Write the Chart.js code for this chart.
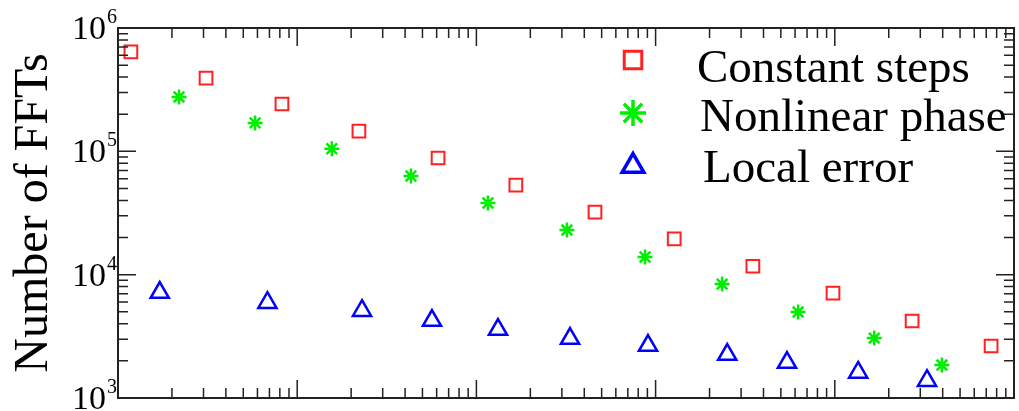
<!DOCTYPE html>
<html>
<head>
<meta charset="utf-8">
<script src="https://cdn.jsdelivr.net/npm/chart.js@4"></script>
<style>
  html, body { margin: 0; padding: 0; background: #fff; }
  #wrap { width: 1019px; height: 411px; }
</style>
</head>
<body>
<div id="wrap"><canvas id="myChart" width="1019" height="411"></canvas></div>
<script>
// data (x axis is log, no labels in the picture)
const constX = [1.18e-5, 3.10e-5, 8.22e-5, 2.21e-4, 6.11e-4, 1.66e-3, 4.59e-3, 1.27e-2, 3.49e-2, 9.77e-2, 0.270, 0.745];
const constY = [6.39e5, 3.93e5, 2.42e5, 1.46e5, 8.83e4, 5.33e4, 3.22e4, 1.95e4, 1.17e4, 7.10e3, 4.21e3, 2.64e3];

const nonlinX = [2.19e-5, 5.82e-5, 1.56e-4, 4.31e-4, 1.16e-3, 3.20e-3, 8.73e-3, 2.35e-2, 6.24e-2, 0.166, 0.396];
const nonlinY = [2.76e5, 1.70e5, 1.05e5, 6.31e4, 3.81e4, 2.30e4, 1.39e4, 8.39e3, 4.98e3, 3.06e3, 1.85e3];

const localX = [1.71e-5, 6.82e-5, 2.30e-4, 5.65e-4, 1.32e-3, 3.33e-3, 9.07e-3, 2.51e-2, 5.41e-2, 0.135, 0.327];
const localY = [7.16e3, 5.93e3, 5.11e3, 4.24e3, 3.59e3, 3.03e3, 2.66e3, 2.25e3, 1.94e3, 1.61e3, 1.38e3];

const seriesLabels = ['Constant steps', 'Nonlinear phase', 'Local error'];
const yDecades = [1e3, 1e4, 1e5, 1e6];
const xDecades = [1e-5, 1e-4, 1e-3, 1e-2, 1e-1, 1];

const SERIF = '"Liberation Serif", "DejaVu Serif", serif';

function toPoints(xs, ys) {
    return xs.map((x, i) => ({ x: x, y: ys[i] }));
}

// frame with inward ticks on all four sides, and 10^n labels
const framePlugin = {
    id: 'frame',
    afterDraw(chart) {
        const ctx = chart.ctx;
        const a = chart.chartArea;
        const xs = chart.scales.x, ys = chart.scales.y;
        ctx.save();
        ctx.strokeStyle = '#222';
        ctx.lineWidth = 1.5;
        const tick = (p, len, vertical) => {
            ctx.beginPath();
            if (vertical) {
                ctx.moveTo(p, a.bottom); ctx.lineTo(p, a.bottom - len);
                ctx.moveTo(p, a.top); ctx.lineTo(p, a.top + len);
            } else {
                ctx.moveTo(a.left, p); ctx.lineTo(a.left + len, p);
                ctx.moveTo(a.right, p); ctx.lineTo(a.right - len, p);
            }
            ctx.stroke();
        };
        xDecades.forEach((d, i) => {
            tick(xs.getPixelForValue(d), 18, true);
            if (i < xDecades.length - 1) {
                for (let m = 2; m < 10; m++) tick(xs.getPixelForValue(d * m), 10, true);
            }
        });
        yDecades.forEach((d, i) => {
            tick(ys.getPixelForValue(d), 18, false);
            if (i < yDecades.length - 1) {
                for (let m = 2; m < 10; m++) tick(ys.getPixelForValue(d * m), 10, false);
            }
        });
        ctx.lineWidth = 2;
        ctx.strokeRect(a.left, a.top, a.right - a.left, a.bottom - a.top);

        // tick labels 10^n
        ctx.fillStyle = '#000';
        ctx.textBaseline = 'alphabetic';
        yDecades.forEach(d => {
            const py = ys.getPixelForValue(d);
            const exp = String(Math.round(Math.log10(d)));
            ctx.font = '34px ' + SERIF;
            ctx.textAlign = 'right';
            ctx.fillText('10', a.left - 12, py + 11);
            ctx.font = '20px ' + SERIF;
            ctx.textAlign = 'left';
            ctx.fillText(exp, a.left - 11, py - 5);
        });
        ctx.restore();
    }
};

// legend drawn inside the plot, top right (bigger markers than the plot)
const legendPlugin = {
    id: 'insideLegend',
    afterDraw(chart) {
        const ctx = chart.ctx;
        const rows = [
            { my: 60, r: 12.4, bw: 3, tx: 697, ty: 82 },
            { my: 113, r: 13, bw: 3.5, tx: 700, ty: 131 },
            { my: 166, r: 12.5, bw: 3.5, tx: 703, ty: 182 }
        ];
        ctx.save();
        chart.data.datasets.forEach((ds, i) => {
            const r = rows[i];
            ctx.strokeStyle = ds.borderColor;
            ctx.fillStyle = 'rgba(0,0,0,0)';
            ctx.lineWidth = r.bw;
            Chart.helpers.drawPoint(ctx, {
                pointStyle: ds.pointStyle,
                radius: r.r,
                borderWidth: r.bw,
                rotation: 0
            }, 633, r.my);
            ctx.fillStyle = '#000';
            ctx.font = '47px ' + SERIF;
            ctx.textAlign = 'left';
            ctx.textBaseline = 'alphabetic';
            ctx.fillText(ds.label, r.tx, r.ty);
        });
        ctx.restore();
    }
};

const ctx = document.getElementById('myChart').getContext('2d');
const myChart = new Chart(ctx, {
    type: 'scatter',
    data: {
        datasets: [{
            label: seriesLabels[0],
            data: toPoints(constX, constY),
            pointStyle: 'rect',
            pointRadius: 9,
            borderWidth: 2,
            borderColor: '#ff2020',
            backgroundColor: 'rgba(0,0,0,0)'
        }, {
            label: seriesLabels[1],
            data: toPoints(nonlinX, nonlinY),
            pointStyle: 'star',
            pointRadius: 7.5,
            borderWidth: 2.5,
            borderColor: '#00ee00',
            backgroundColor: 'rgba(0,0,0,0)'
        }, {
            label: seriesLabels[2],
            data: toPoints(localX, localY),
            pointStyle: 'triangle',
            pointRadius: 10.5,
            borderWidth: 2.5,
            borderColor: '#0000ff',
            backgroundColor: 'rgba(0,0,0,0)'
        }]
    },
    options: {
        responsive: false,
        animation: false,
        layout: {
            autoPadding: false,
            padding: { top: 28, right: 5, bottom: 13, left: 0 }
        },
        plugins: {
            legend: { display: false },
            tooltip: { enabled: false }
        },
        scales: {
            x: {
                type: 'logarithmic',
                min: 1e-5,
                max: 1,
                display: false
            },
            y: {
                type: 'logarithmic',
                min: 1e3,
                max: 1e6,
                afterBuildTicks: (scale) => { scale.ticks = yDecades.map(v => ({ value: v })); },
                afterFit: (scale) => { scale.width = 118; },
                ticks: { display: false },
                grid: { display: false },
                border: { display: false },
                title: {
                    display: true,
                    text: 'Number of FFTs',
                    color: '#000',
                    font: { family: SERIF, size: 48 },
                    padding: { top: 6, bottom: 0 }
                }
            }
        }
    },
    plugins: [framePlugin, legendPlugin]
});
</script>
</body>
</html>
